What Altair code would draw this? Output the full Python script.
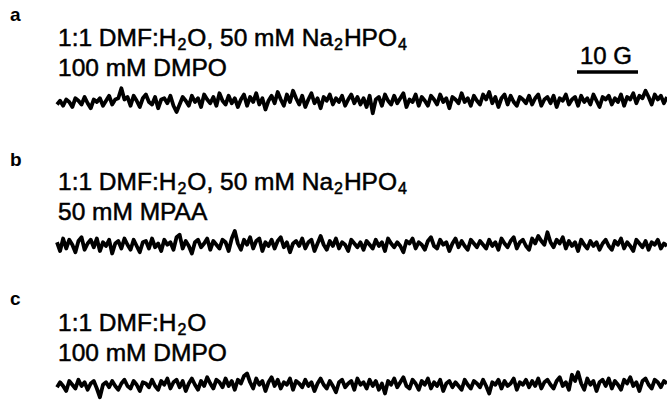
import altair as alt
import pandas as pd

# ---------------- data ----------------
panel_letters = ["a", "b", "c"]
line1_parts = [
    [("1:1 DMF:H", 0), ("2", 1), ("O, 50 mM Na", 0), ("2", 1), ("HPO", 0), ("4", 1)],
    [("1:1 DMF:H", 0), ("2", 1), ("O, 50 mM Na", 0), ("2", 1), ("HPO", 0), ("4", 1)],
    [("1:1 DMF:H", 0), ("2", 1), ("O", 0)],
]
line2_texts = ["100 mM DMPO", "50 mM MPAA", "100 mM DMPO"]
scale_label = "10 G"

trace_a = [
    -2, 1, -3, 2, 0, -4, 3, 1, -2, 4, -1, -5, 2, 0, 3, -3, 1, 5, -2, 2,
    3, 11, 2, 4, -3, 5, 1, -4, 3, 6, 0, -2, 4, -5, 2, 3, -1, 5, -3, -8,
    -2, 4, 1, -3, 5, 0, 3, -4, 6, 2, -1, 4, -3, 7, 1, -2, 5, -1, 3, -4,
    2, 6, -3, 4, 0, 7, -2, 3, -6, 1, 5, -1, 8, 2, -3, 6, 0, 9, 3, -2,
    5, -4, 2, 7, -1, 3, -5, 4, 1, 6, -2, 3, 0, 5, -3, 2, 6, -1, 4, -2,
    3, -4, 5, -9, 2, 4, -3, 6, 1, -2, 5, -1, 3, 7, -4, 2, 0, 6, -3, 4,
    1, -3, 5, 2, -2, 6, 0, 3, -5, 4, 2, -1, 7, 0, 3, -3, 5, 1, -2, 6,
    2, 8, -1, 4, -4, 3, 6, -2, 5, 0, -3, 4, 2, -1, 5, -2, 3, 6, -3, 2,
    4, -1, 5, -4, 3, 1, 6, -2, 2, 4, -3, 5, 0, 3, -2, 6, 1, -4, 4, 2,
    5, -2, 3, 0, 6, -3, 4, 2, 7, -1, 5, 3, 9, 4, -2, 6, 2, 5, -1, 4,
]
trace_b = [
    3, -4, 6, -2, 5, 1, -5, 4, 7, -3, 2, 5, -1, 6, -4, 3, 0, 5, -6, 2,
    4, -2, 6, 1, -3, 5, 0, -5, 3, 4, -2, 6, -1, 2, -4, 5, 1, 3, -3, 7,
    9, -2, 4, 0, -6, 3, 5, -1, 2, 6, -3, 4, 1, -2, 5, 3, -4, 6, 12, 2,
    -3, 5, 1, 7, -2, 4, 6, -4, 3, 0, 5, -2, 4, 7, -1, 3, -5, 2, 4, 0,
    6, -2, 3, 5, -4, 2, 8, 1, -3, 4, 0, 6, -2, 3, 1, -4, 5, 2, -1, 3,
    -3, 4, 1, -2, 5, 0, 3, -4, 6, 2, -1, 3, 0, -5, 4, 2, 6, -2, 3, 1,
    -3, 4, 7, 0, -2, 5, 1, 3, -4, 2, 6, -1, 4, 0, -3, 5, 2, -1, 4, 1,
    -2, 5, 0, 3, -3, 6, 2, -1, 4, 7, -2, 3, 5, 0, -3, 6, 2, 8, 4, 1,
    11, 3, -1, 5, 2, 7, -2, 4, 0, 3, -4, 5, 1, -2, 4, 0, 3, -3, 2, 5,
    0, -3, 4, 1, 6, -2, 3, 0, -4, 5, 2, -1, 4, -3, 3, 1, 5, -2, 2, 0,
]
trace_c = [
    -1, 3, 0, -4, 4, 1, -2, 5, 0, 3, -3, 2, 4, -2, -9, 1, 3, -1, 4, 0,
    -3, 2, 5, 0, -2, 4, 1, -4, 3, 2, -1, 5, 0, -3, 4, 1, 6, -2, 3, 5,
    -1, 4, -4, 2, 6, 1, -3, 4, 0, 7, 2, -2, 5, 3, -1, 6, 0, 4, -3, 5,
    2, 8, 10, 3, -2, 6, 1, 4, -4, 3, 7, 0, 5, -2, 3, 1, 6, -3, 4, 2,
    -1, 5, 0, 3, -4, 2, 6, 1, -2, 4, 0, -5, 3, 5, -1, 2, 4, -3, 6, 1,
    3, -2, 5, 0, 4, -3, 2, -6, 4, 1, 6, -1, 3, 7, 0, -2, 5, 2, -3, 4,
    1, 6, -2, 3, 0, 5, -4, 2, 4, -1, 3, 0, -3, 5, 1, -2, 4, 2, -1, 5,
    0, -6, 3, 1, 5, -2, 4, 0, 2, 6, -3, 3, 1, 5, -1, 4, 0, 6, -2, 3,
    5, 1, -2, 4, 7, 0, 3, -3, 9, 4, 11, 2, -3, 6, 1, 4, -4, 3, 5, 0,
    6, -2, 4, 1, -3, 5, 2, 7, 0, 3, -4, 4, 6, 1, -2, 5, 3, -1, 4, 2,
]
traces = [trace_a, trace_b, trace_c]

# ---------------- layout / style ----------------
W, H = 667, 410
FONT = "Liberation Sans"
TXT = 24.5
SUB = 16
LET = 19
X_TEXT = 58
letter_y = [21, 166, 305]
line1_y = [46, 190, 331]
line2_y = [76, 220, 361]
trace_mid = [102, 246, 386]
TRACE_X0, TRACE_X1 = 57, 667
AMP = 14
PX_PER_UNIT = 1.25
SUB_GAP = 1
SUB_DROP = 4

ARIAL = {'1': 556, ':': 278, ' ': 278, 'D': 722, 'M': 833, 'F': 611, 'H': 722,
         'O': 778, ',': 278, '5': 556, '0': 556, 'm': 833, 'N': 722, 'a': 556,
         'P': 667, '2': 556, '4': 556, 'A': 667, 'G': 778}


def tw(s, size):
    return sum(ARIAL.get(ch, 556) for ch in s) / 1000.0 * size


one = pd.DataFrame({"k": [0]})


def text_layer(s, x, y, size, **kw):
    return alt.Chart(pd.DataFrame({"t": [s]})).mark_text(
        font=FONT, fontSize=size, align="left", baseline="alphabetic",
        color="black", **kw
    ).encode(text="t:N", x=alt.value(x), y=alt.value(y))


heavy = dict(stroke="black", strokeWidth=0.5)

layers = []
for p in range(3):
    layers.append(text_layer(panel_letters[p], 10, letter_y[p], LET, fontWeight="bold"))
    x = X_TEXT
    for seg, is_sub in line1_parts[p]:
        if is_sub:
            x += SUB_GAP
            layers.append(text_layer(seg, x, line1_y[p] + SUB_DROP, SUB, **heavy))
            x += tw(seg, SUB) + SUB_GAP
        else:
            layers.append(text_layer(seg, x, line1_y[p], TXT, **heavy))
            x += tw(seg, TXT)
    layers.append(text_layer(line2_texts[p], X_TEXT, line2_y[p], TXT, **heavy))

    df = pd.DataFrame({"i": list(range(len(traces[p]))), "v": traces[p]})
    half = AMP * PX_PER_UNIT
    layers.append(
        alt.Chart(df).mark_line(color="black", strokeWidth=3.8, strokeJoin="round").encode(
            x=alt.X("i:Q", axis=None,
                    scale=alt.Scale(domain=[0, len(traces[p]) - 1], range=[TRACE_X0, TRACE_X1], nice=False, zero=False)),
            y=alt.Y("v:Q", axis=None,
                    scale=alt.Scale(domain=[-AMP, AMP], range=[trace_mid[p] + half, trace_mid[p] - half], nice=False, zero=False)),
        )
    )

# scale bar
layers.append(text_layer(scale_label, 580, 64, 24, **heavy))
layers.append(
    alt.Chart(one).mark_rule(color="black", strokeWidth=3.5).encode(
        x=alt.value(577), x2=alt.value(638), y=alt.value(72)
    )
)

chart = alt.layer(*layers).resolve_scale(x="independent", y="independent").properties(
    width=W, height=H, padding=0, autosize=alt.AutoSizeParams(type="none"), background="white"
).configure_view(stroke=None)

chart.save("out.html", embed_options={"renderer": "svg", "actions": False})
